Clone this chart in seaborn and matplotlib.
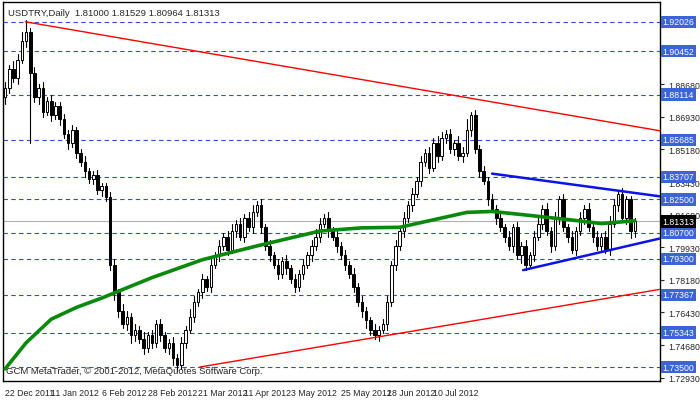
import numpy as np
import matplotlib
matplotlib.use("Agg")
import matplotlib.pyplot as plt
import seaborn as sns

# daily closes, index 0 = 22 Dec 2011
closes = [1.885, 1.895, 1.890, 1.900,
          1.910, 1.915, 1.893,
          1.880, 1.885, 1.872, 1.878, 1.870, 1.875,
          1.868, 1.860, 1.855, 1.862, 1.850, 1.845,
          1.840, 1.836, 1.838, 1.830, 1.832, 1.826,
          1.790, 1.775, 1.765, 1.758, 1.762, 1.752,
          1.755, 1.750, 1.745, 1.752, 1.748, 1.758, 1.752, 1.745, 1.748, 1.740, 1.736,
          1.748, 1.755, 1.762, 1.770, 1.775, 1.782, 1.778, 1.790, 1.795,
          1.800, 1.805, 1.798, 1.808, 1.812, 1.805, 1.815, 1.810, 1.818, 1.822, 1.810,
          1.800, 1.795, 1.790, 1.785, 1.792, 1.788, 1.782, 1.778, 1.785,
          1.790, 1.795, 1.800, 1.805, 1.812, 1.815, 1.808, 1.805,
          1.800, 1.795, 1.790, 1.785, 1.778, 1.770, 1.765,
          1.760, 1.755, 1.752, 1.755, 1.758, 1.770, 1.790,
          1.800, 1.808, 1.815, 1.822, 1.828,
          1.835, 1.845, 1.850, 1.842, 1.855, 1.848, 1.858,
          1.860, 1.852, 1.855, 1.848, 1.850, 1.862, 1.870,
          1.852, 1.840, 1.835, 1.825,
          1.820, 1.815, 1.810, 1.805, 1.800, 1.810, 1.795, 1.800, 1.790, 1.795,
          1.805, 1.812, 1.820, 1.808, 1.800, 1.815, 1.825, 1.810, 1.805, 1.798, 1.808,
          1.815, 1.820, 1.810, 1.805, 1.800, 1.805,
          1.798, 1.812, 1.822, 1.828, 1.815, 1.825, 1.808, 1.81313]
first_open = 1.880
# wick lengths beyond the body, in units of 0.001
wick_up = [3, 2, 4, 3, 5, 6, 2, 3, 2, 3, 2, 3, 2, 2, 3, 2, 3, 2, 2, 3, 2, 2, 3, 2, 2,
           3, 3, 2, 4, 3, 2, 3, 2, 4, 2, 3, 2, 3, 2, 2, 3, 2, 3, 2, 4, 3, 2, 3, 2, 3,
           2, 3, 2, 3, 4, 2, 3, 2, 3, 4, 2, 3, 2, 3, 2, 3, 2, 3, 2, 3, 2, 3, 2, 3, 4,
           3, 2, 3, 2, 3, 2, 3, 2, 3, 2, 3, 2, 2, 3, 2, 3, 3, 2, 3, 2, 3, 2, 3, 2, 3,
           2, 3, 3, 4, 3, 2, 3, 2, 4, 3, 6, 2, 3, 2, 3, 2, 3, 2, 3, 2, 3, 2, 3, 2, 3,
           2, 3, 4, 2, 3, 2, 3, 2, 3, 2, 3, 2, 3, 2, 3, 2, 3, 2, 3, 4, 3, 2, 3, 2, 2, 2]
wick_dn = [4, 3, 2, 3, 2, 3, 38, 3, 4, 3, 2, 3, 2, 3, 2, 3, 2, 3, 2, 3, 2, 3, 2, 3, 2,
           3, 4, 3, 2, 3, 4, 3, 2, 3, 2, 3, 2, 3, 2, 3, 4, 3, 2, 3, 2, 3, 2, 3, 2, 3,
           2, 3, 2, 3, 2, 3, 2, 3, 2, 3, 2, 3, 2, 3, 2, 3, 2, 3, 2, 3, 2, 3, 2, 3, 2,
           3, 2, 3, 2, 3, 2, 3, 2, 3, 2, 3, 4, 3, 2, 3, 2, 3, 2, 3, 2, 3, 2, 3, 2, 3,
           2, 3, 2, 3, 2, 3, 2, 3, 2, 3, 2, 3, 2, 3, 2, 3, 2, 3, 2, 3, 2, 3, 2, 4, 3,
           2, 3, 2, 3, 2, 3, 2, 3, 2, 3, 2, 3, 2, 3, 2, 3, 2, 3, 2, 3, 2, 3, 2, 3, 4, 3]

# moving average knots (candle index, price)
ma_idx = [0, 5, 11, 17, 23, 35, 47, 60, 75, 85, 94, 104, 110, 116, 124, 135, 142, 150]
ma_val = [1.7340, 1.7480, 1.7607, 1.7670, 1.7720, 1.7830, 1.7926, 1.8000, 1.8080,
          1.8097, 1.8100, 1.8150, 1.8180, 1.8185, 1.8166, 1.8139, 1.8120, 1.8135]

levels = [1.92026, 1.90452, 1.88114, 1.85685, 1.83707, 1.82500, 1.80700,
          1.79300, 1.77367, 1.75343, 1.73500]
grid_ticks = [1.88680, 1.86930, 1.85180, 1.83430, 1.81680, 1.79930,
              1.78180, 1.76430, 1.74680, 1.72930]
last_price = 1.81313

date_idx = [0, 11, 23, 34, 46, 57, 68, 80, 91, 102]
date_lbl = ["22 Dec 2011", "11 Jan 2012", "6 Feb 2012", "28 Feb 2012", "21 Mar 2012",
            "11 Apr 2012", "3 May 2012", "25 May 2012", "18 Jun 2012", "10 Jul 2012"]

# trend lines ((x0, y0), (x1, y1))
red_lines = [((4.8, 1.9203), (156, 1.8618)), ((46.4, 1.7350), (156, 1.7767))]
blue_lines = [((116, 1.8388), (156, 1.8266)), ((123.4, 1.7870), (156, 1.8040))]

sns.set_style("white")
plt.rcParams['font.family'] = ['Liberation Sans', 'DejaVu Sans']
FS = 6.3

fig = plt.figure(figsize=(7.0, 4.02), dpi=100)
ax = fig.add_axes([3 / 700, 20 / 402, 657 / 700, 379 / 402])

n = len(closes)
opens = [first_open] + closes[:-1]
for i in range(n):
    o, c = opens[i], closes[i]
    hi = max(o, c) + wick_up[i] / 1000
    lo = min(o, c) - wick_dn[i] / 1000
    ax.plot([i, i], [lo, hi], color="black", lw=0.8, zorder=3)
    body = max(abs(c - o), 0.0004)
    ax.bar(i, body, bottom=min(o, c), width=0.6,
           color="white" if c >= o else "black", edgecolor="black", lw=0.7, zorder=4)

for lv in levels:
    ax.axhline(lv, color="#3050d0", lw=0.8, ls=(0, (4, 3)), zorder=1)
ax.axhline(last_price, color="#b0b0b0", lw=0.8, zorder=1)

sns.lineplot(x=ma_idx, y=ma_val, ax=ax, color="#0a8a0a", lw=2.6, zorder=5)

for (x0, y0), (x1, y1) in red_lines:
    ax.plot([x0, x1], [y0, y1], color="red", lw=1.0, zorder=6)
for (x0, y0), (x1, y1) in blue_lines:
    ax.plot([x0, x1], [y0, y1], color="#0a14e6", lw=1.8, zorder=6)

ax.set_xlim(-0.5, 156)
ax.set_ylim(1.7275, 1.93091)

ax.yaxis.tick_right()
ax.set_yticks(grid_ticks)
ax.set_yticklabels([f"{t:.5f}" for t in grid_ticks], fontsize=FS)
ax.tick_params(axis="y", length=3, pad=3)
ax.set_xticks(date_idx)
ax.set_xticklabels(date_lbl, fontsize=FS, ha="left")
ax.tick_params(axis="x", length=3, pad=2)
for s in ax.spines.values():
    s.set_color("black")
    s.set_linewidth(1)

for lv in levels:
    ax.text(1.004, lv, f"{lv:.5f}", transform=ax.get_yaxis_transform(), fontsize=FS,
            color="white", va="center", ha="left",
            bbox=dict(boxstyle="square,pad=0.2", fc="#3a64d8", ec="none"), zorder=10)
ax.text(1.004, last_price, f"{last_price:.5f}", transform=ax.get_yaxis_transform(),
        fontsize=FS, color="white", va="center", ha="left",
        bbox=dict(boxstyle="square,pad=0.2", fc="black", ec="none"), zorder=11)

ax.text(0.008, 0.985, "USDTRY,Daily  1.81000 1.81529 1.80964 1.81313",
        transform=ax.transAxes, fontsize=FS + 0.5, va="top", ha="left")
ax.text(0.004, 0.015, "GCM MetaTrader, © 2001-2012, MetaQuotes Software Corp.",
        transform=ax.transAxes, fontsize=FS + 0.5, va="bottom", ha="left")

fig.savefig("out.png", dpi=100)
